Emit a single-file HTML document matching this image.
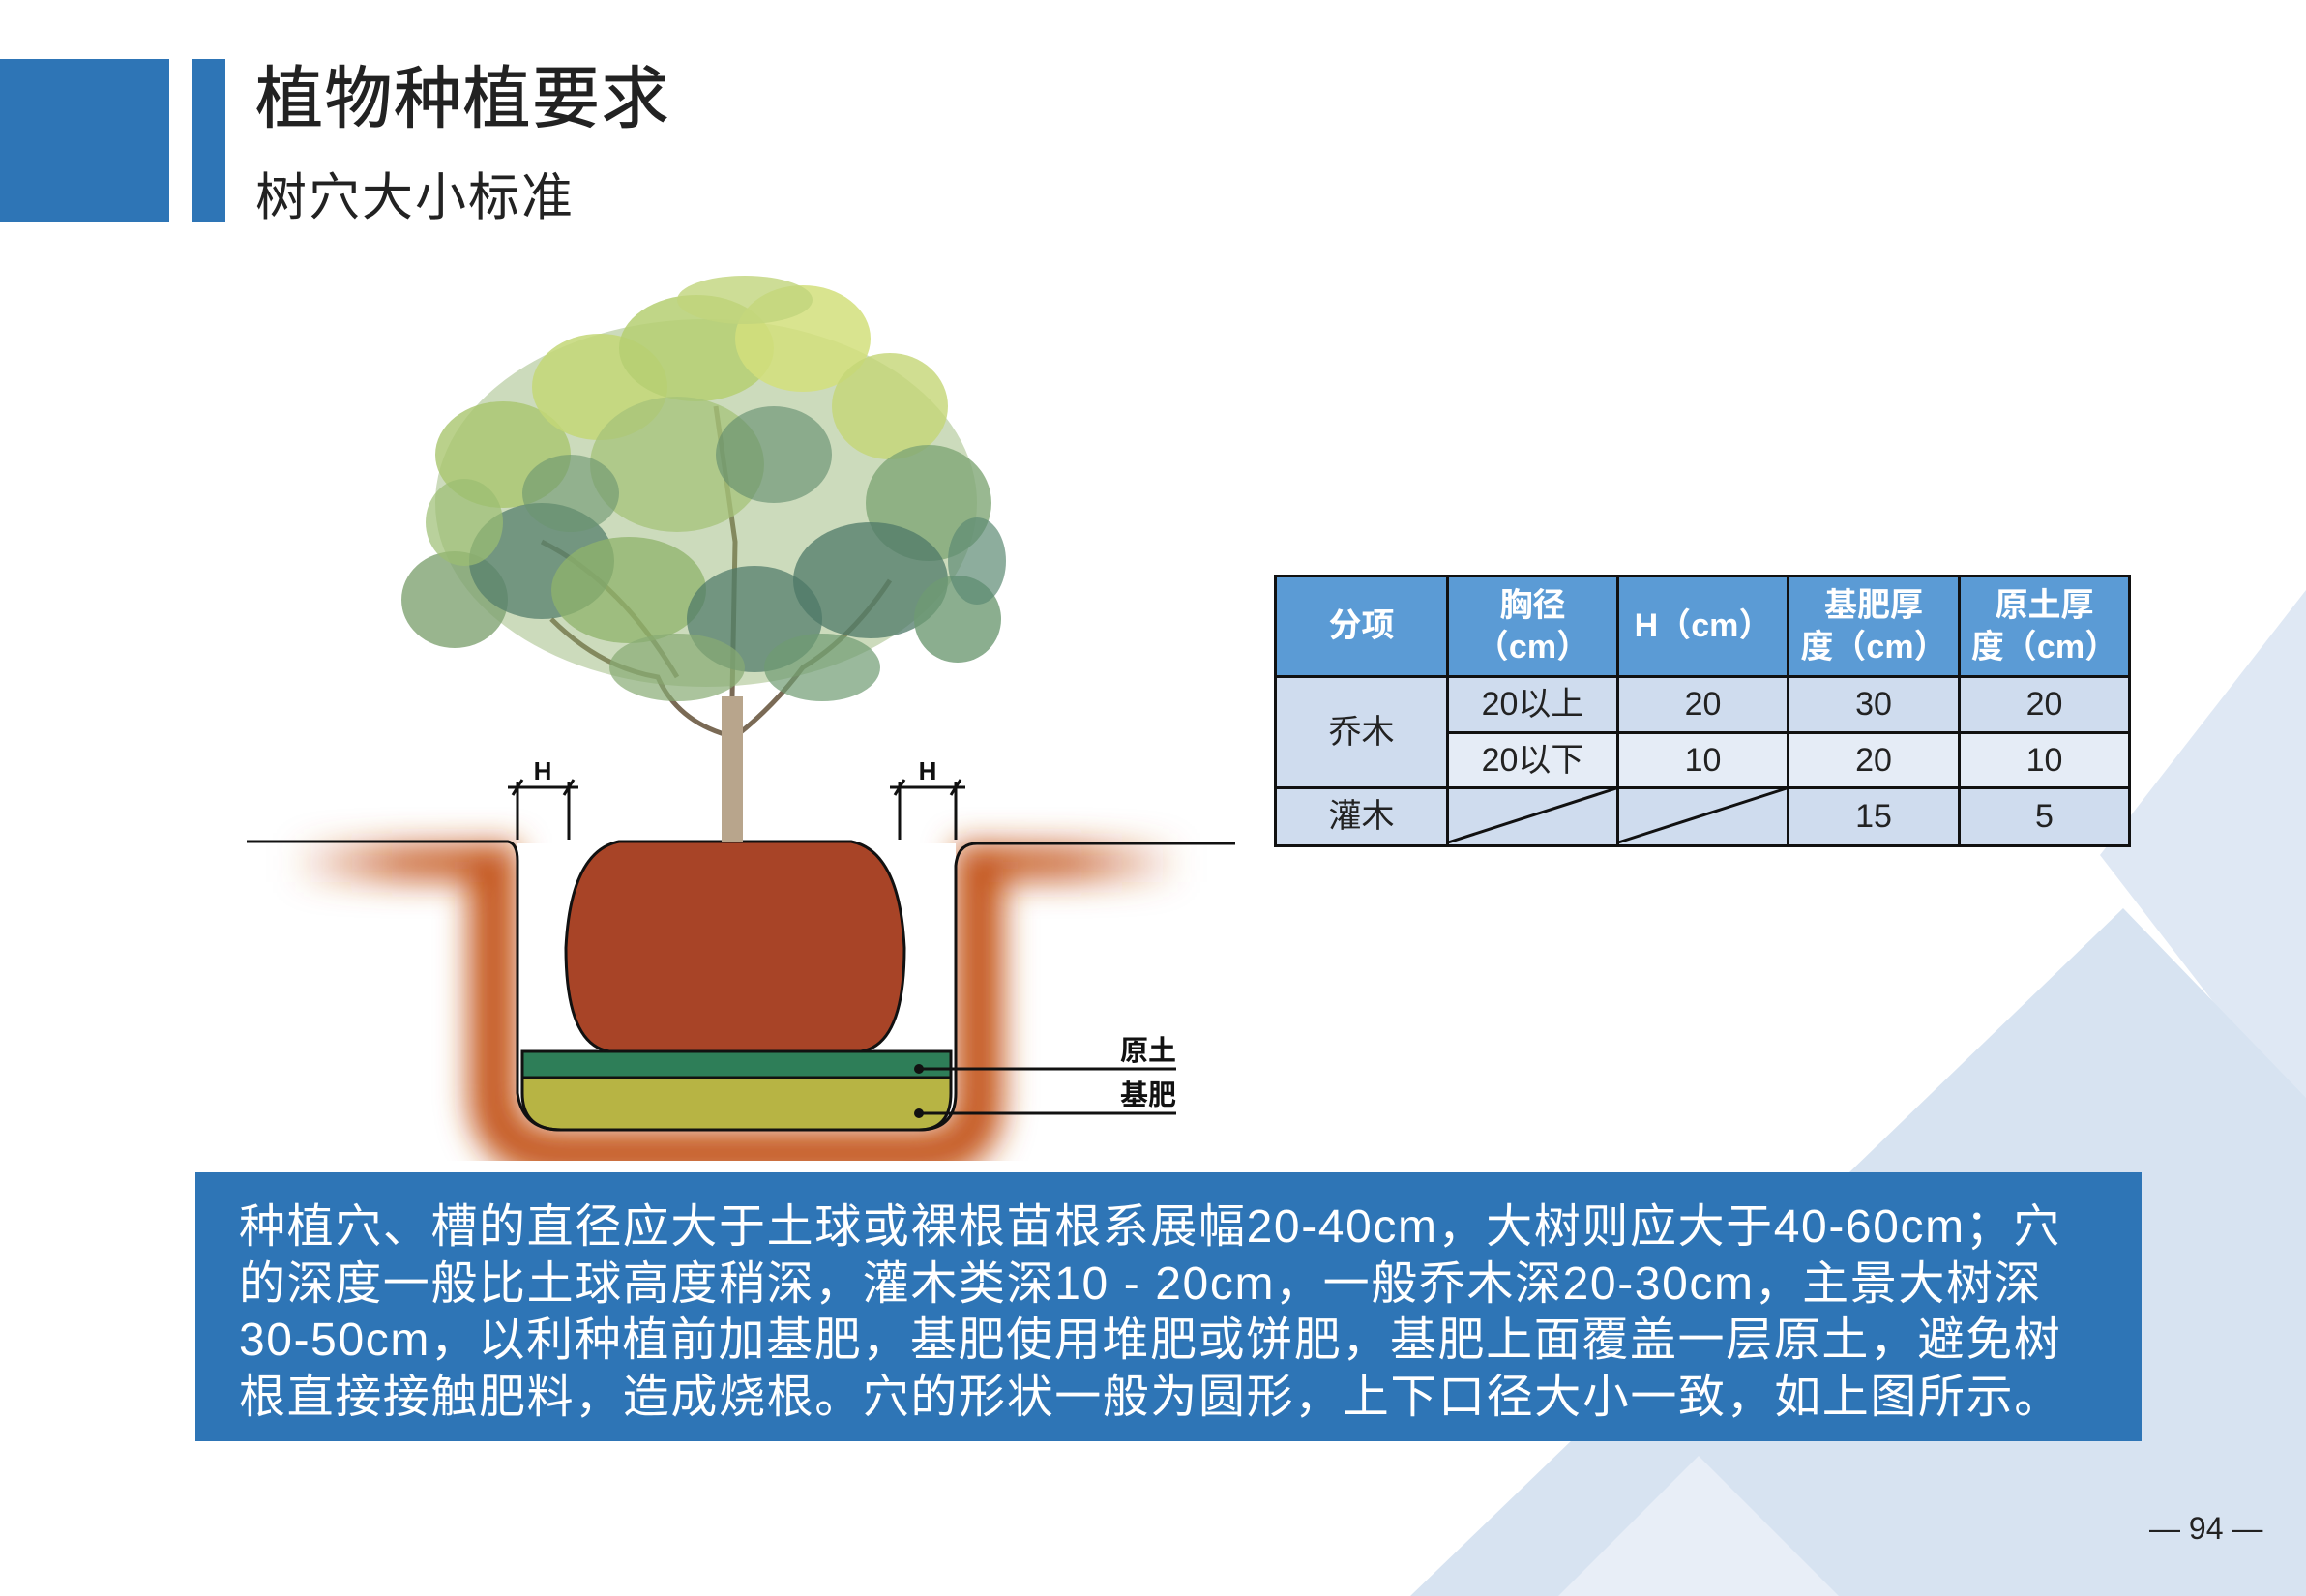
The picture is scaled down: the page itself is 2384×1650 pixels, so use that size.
<!DOCTYPE html>
<html><head><meta charset="utf-8">
<style>
html,body{margin:0;padding:0}
body{width:2384px;height:1650px;position:relative;overflow:hidden;background:#fff;font-family:"Liberation Sans","Noto Sans CJK SC",sans-serif}
.abs{position:absolute}
table{border-collapse:collapse;position:absolute;left:1317px;top:594px;width:883px;height:279px;table-layout:fixed}
td{border:3px solid #111;text-align:center;font-size:34px;color:#222;padding:0;line-height:1.2}
th{border:3px solid #111;background:#5b9bd5;color:#fff;font-size:34px;font-weight:bold;line-height:1.25;padding:0}
.a{background:#cfdcee}.b{background:#e5ecf6}
</style></head><body>
<svg class="abs" style="left:0;top:0" width="2384" height="1650">
<polygon points="2384,610 2171,884 2384,1160" fill="#dfe8f4"/>
<polygon points="2195,939 1458,1650 2384,1650 2384,1135" fill="#d7e3f1"/>
<polygon points="1756,1505 1611,1650 1901,1650" fill="#e8eef7"/>
</svg>
<div class="abs" style="left:0;top:61px;width:175px;height:169px;background:#2e75b6"></div>
<div class="abs" style="left:199px;top:61px;width:34px;height:169px;background:#2e75b6"></div>
<div class="abs" style="left:264px;top:46px;font-size:70px;color:#222;letter-spacing:1.5px;-webkit-text-stroke:0.8px #222">植物种植要求</div>
<div class="abs" style="left:264px;top:162px;font-size:53px;color:#222;letter-spacing:2px">树穴大小标准</div>

<svg class="abs" style="left:0;top:0" width="1320" height="1200">
<defs>
<filter id="bl" x="-30%" y="-30%" width="160%" height="160%"><feGaussianBlur stdDeviation="16"/></filter>
<linearGradient id="gl" x1="0" x2="1"><stop offset="0" stop-color="#c4561f" stop-opacity="0"/><stop offset="0.5" stop-color="#c4561f" stop-opacity="0.8"/><stop offset="1" stop-color="#c4561f"/></linearGradient>
<linearGradient id="gr" x1="1" x2="0"><stop offset="0" stop-color="#c4561f" stop-opacity="0"/><stop offset="0.5" stop-color="#c4561f" stop-opacity="0.8"/><stop offset="1" stop-color="#c4561f"/></linearGradient>
</defs>
<g filter="url(#bl)">
<rect x="300" y="872" width="235" height="40" fill="url(#gl)"/>
<rect x="988" y="872" width="235" height="40" fill="url(#gr)"/>
<path d="M510,880 L510,1140 Q515,1192 580,1192 L950,1192 Q1012,1192 1012,1140 L1012,880" fill="none" stroke="#c4561f" stroke-width="50"/>
</g>
<path d="M535,872 L535,1130 Q540,1168 580,1168 L950,1168 Q988,1168 988,1130 L988,872Z" fill="#fff"/>
<path d="M540,1114 L983,1114 L983,1130 Q983,1168 950,1168 L580,1168 Q540,1168 540,1130Z" fill="#b7b444" stroke="#111" stroke-width="3"/>
<rect x="540" y="1087" width="443" height="27" fill="#2e7e58" stroke="#111" stroke-width="3"/>
<path d="M255,870 L525,870 Q535,872 535,890 L535,1130 Q540,1168 580,1168 L950,1168 Q988,1168 988,1130 L988,895 Q990,872 1010,872 L1277,872" fill="none" stroke="#111" stroke-width="3"/>
<path d="M640,870 L880,870 Q930,880 935,980 Q935,1080 890,1087 L630,1087 Q585,1080 585,980 Q590,880 640,870Z" fill="#a84427" stroke="#111" stroke-width="3"/>
<circle cx="950" cy="1105" r="5" fill="#111"/><line x1="950" y1="1105" x2="1216" y2="1105" stroke="#111" stroke-width="3"/>
<circle cx="950" cy="1151" r="5" fill="#111"/><line x1="950" y1="1151" x2="1216" y2="1151" stroke="#111" stroke-width="3"/>
<text x="1216" y="1096" text-anchor="end" font-size="29" font-weight="bold" fill="#111">原土</text>
<text x="1216" y="1142" text-anchor="end" font-size="29" font-weight="bold" fill="#111">基肥</text>
<g stroke="#111" stroke-width="3">
<line x1="535" y1="808" x2="535" y2="868"/><line x1="588" y1="808" x2="588" y2="868"/><line x1="525" y1="814" x2="598" y2="814"/>
<line x1="530" y1="822" x2="540" y2="806"/><line x1="583" y1="822" x2="593" y2="806"/>
<line x1="930" y1="808" x2="930" y2="868"/><line x1="988" y1="808" x2="988" y2="868"/><line x1="920" y1="814" x2="998" y2="814"/>
<line x1="925" y1="822" x2="935" y2="806"/><line x1="983" y1="822" x2="993" y2="806"/>
</g>
<text x="561" y="806" text-anchor="middle" font-size="26" font-weight="bold" fill="#111">H</text>
<text x="959" y="806" text-anchor="middle" font-size="26" font-weight="bold" fill="#111">H</text>
<g fill="none" stroke="#7a6a55" stroke-width="5">
<path d="M752,760 Q700,745 680,700 Q620,690 570,640"/>
<path d="M762,760 Q800,730 830,690 Q880,660 920,600"/>
<path d="M757,720 L760,560 L740,420"/>
<path d="M700,700 Q640,600 560,560"/>
</g>
<rect x="746" y="720" width="22" height="150" fill="#b8a58c"/>
<g>
<ellipse cx="730" cy="520" rx="280" ry="190" fill="#8fb06a" opacity="0.45"/>
<ellipse cx="520" cy="470" rx="70" ry="55" fill="#a9c66e" opacity="0.8"/>
<ellipse cx="470" cy="620" rx="55" ry="50" fill="#7fa272" opacity="0.8"/>
<ellipse cx="560" cy="580" rx="75" ry="60" fill="#557f6c" opacity="0.75"/>
<ellipse cx="620" cy="400" rx="70" ry="55" fill="#c3d777" opacity="0.85"/>
<ellipse cx="720" cy="360" rx="80" ry="55" fill="#b5cf72" opacity="0.85"/>
<ellipse cx="830" cy="350" rx="70" ry="55" fill="#d2df7b" opacity="0.85"/>
<ellipse cx="920" cy="420" rx="60" ry="55" fill="#c4d676" opacity="0.8"/>
<ellipse cx="960" cy="520" rx="65" ry="60" fill="#7fa676" opacity="0.8"/>
<ellipse cx="900" cy="600" rx="80" ry="60" fill="#4f7a68" opacity="0.75"/>
<ellipse cx="990" cy="640" rx="45" ry="45" fill="#6e9a73" opacity="0.8"/>
<ellipse cx="700" cy="480" rx="90" ry="70" fill="#a6c37a" opacity="0.75"/>
<ellipse cx="800" cy="470" rx="60" ry="50" fill="#5f8a6c" opacity="0.6"/>
<ellipse cx="650" cy="610" rx="80" ry="55" fill="#8fb36b" opacity="0.75"/>
<ellipse cx="780" cy="640" rx="70" ry="55" fill="#4c7767" opacity="0.7"/>
<ellipse cx="700" cy="690" rx="70" ry="35" fill="#87ab73" opacity="0.7"/>
<ellipse cx="850" cy="690" rx="60" ry="35" fill="#6f9b72" opacity="0.7"/>
<ellipse cx="590" cy="510" rx="50" ry="40" fill="#6a9470" opacity="0.6"/>
<ellipse cx="770" cy="310" rx="70" ry="25" fill="#c1d47c" opacity="0.8"/>
<ellipse cx="480" cy="540" rx="40" ry="45" fill="#9bbd72" opacity="0.7"/>
<ellipse cx="1010" cy="580" rx="30" ry="45" fill="#5c8a73" opacity="0.7"/>
</g>
</svg>

<table>
<colgroup><col style="width:178px"><col style="width:176px"><col style="width:176px"><col style="width:177px"><col style="width:176px"></colgroup>
<tr style="height:104px"><th>分项</th><th>胸径<br>（cm）</th><th>H（cm）</th><th>基肥厚<br>度（cm）</th><th>原土厚<br>度（cm）</th></tr>
<tr style="height:58px"><td class="a" rowspan="2">乔木</td><td class="a">20以上</td><td class="a">20</td><td class="a">30</td><td class="a">20</td></tr>
<tr style="height:57px"><td class="b">20以下</td><td class="b">10</td><td class="b">20</td><td class="b">10</td></tr>
<tr style="height:60px"><td class="a">灌木</td><td class="a"></td><td class="a"></td><td class="a">15</td><td class="a">5</td></tr>
</table>
<svg class="abs" style="left:0;top:0" width="2384" height="900">
<line x1="1497" y1="871" x2="1671" y2="815" stroke="#111" stroke-width="3"/>
<line x1="1673" y1="871" x2="1847" y2="815" stroke="#111" stroke-width="3"/>
</svg>

<div class="abs" style="left:202px;top:1212px;width:2012px;height:278px;background:#2e75b6"></div>
<div class="abs" style="left:247px;top:1240px;width:1960px;font-size:48px;line-height:58.5px;color:#fff;white-space:nowrap;letter-spacing:1.6px">种植穴、槽的直径应大于土球或裸根苗根系展幅20-40cm，大树则应大于40-60cm；穴<br>的深度一般比土球高度稍深，灌木类深10 - 20cm，一般乔木深20-30cm，主景大树深<br>30-50cm，以利种植前加基肥，基肥使用堆肥或饼肥，基肥上面覆盖一层原土，避免树<br>根直接接触肥料，造成烧根。穴的形状一般为圆形，上下口径大小一致，如上图所示。</div>
<div class="abs" style="left:2222px;top:1562px;font-size:32px;color:#222">— 94 —</div>
</body></html>
